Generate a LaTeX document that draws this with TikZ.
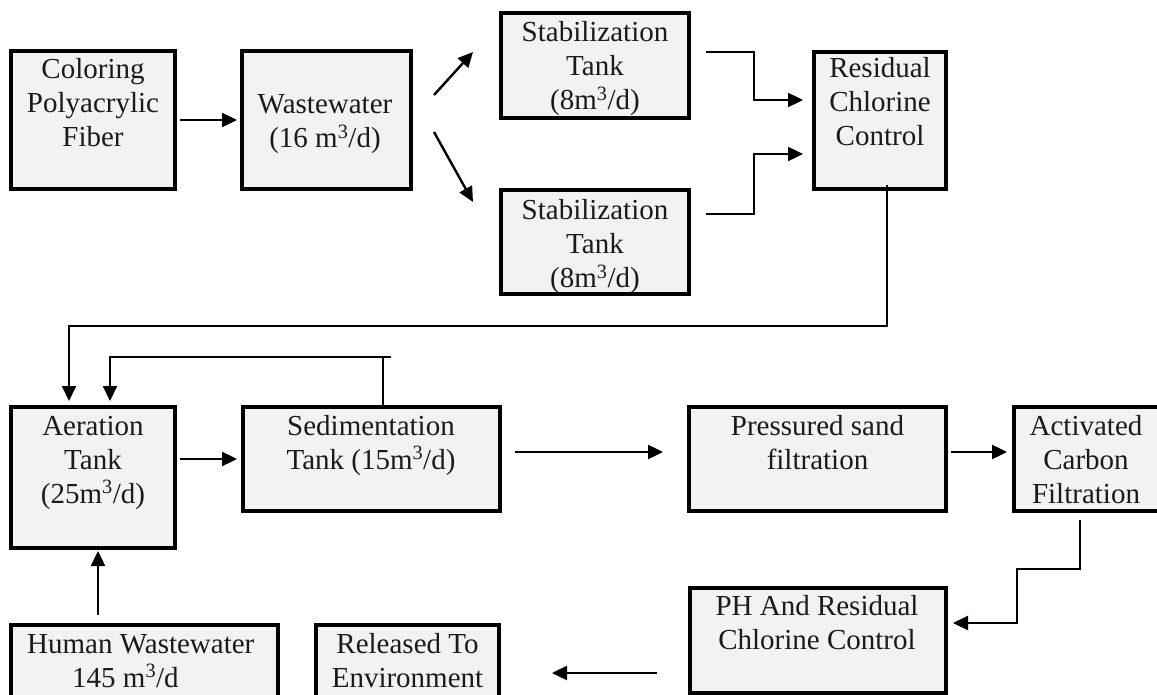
\documentclass[tikz,border=0pt]{standalone}
\usepackage{fontspec}
\setmainfont{Liberation Serif}
\usetikzlibrary{arrows.meta}
\definecolor{boxfill}{HTML}{F2F2F2}
\definecolor{txt}{HTML}{1A1A1A}
\newcommand\tlines[1]{\begin{tabular}[t]{@{}c@{}}#1\end{tabular}}
\begin{document}
\begin{tikzpicture}[x=1pt,y=-1pt,
  pbox/.style={draw=black,line width=4.4pt,fill=boxfill,inner sep=0pt,rectangle},
  lbl/.style={anchor=base,inner sep=0pt,text=txt,font=\fontsize{29}{34}\selectfont},
  arr/.style={line width=2.4pt,-{Triangle[length=15pt,width=14pt]}},
  wire/.style={line width=2pt}]
\useasboundingbox (0,0) rectangle (1157,695);
\fill[white] (0,0) rectangle (1157,695);
% boxes
\node[pbox,minimum width=163.6pt,minimum height=137.6pt] (color) at (93,120) {};
\node[pbox,minimum width=168.6pt,minimum height=137.6pt] (waste) at (326.5,120) {};
\node[pbox,minimum width=187.6pt,minimum height=104.6pt] (stab1) at (595,65.5) {};
\node[pbox,minimum width=187.6pt,minimum height=103.6pt] (stab2) at (595,242) {};
\node[pbox,minimum width=131.6pt,minimum height=136.6pt] (resid) at (880,120.5) {};
\node[pbox,minimum width=163.6pt,minimum height=140.6pt] (aer) at (93,477.5) {};
\node[pbox,minimum width=256.6pt,minimum height=103.6pt] (sed) at (371.5,459) {};
\node[pbox,minimum width=256.6pt,minimum height=103.6pt] (sand) at (817.5,459) {};
\node[pbox,minimum width=145.6pt,minimum height=103.6pt] (act) at (1087,459) {};
\node[pbox,minimum width=266.6pt,minimum height=82.6pt] (human) at (144.5,666.5) {};
\node[pbox,minimum width=182.6pt,minimum height=82.6pt] (rel) at (407.5,666.5) {};
\node[pbox,minimum width=255.6pt,minimum height=104.6pt] (ph) at (818,640.5) {};
% connectors
\draw[arr,shorten <=3pt,shorten >=3pt] (color.east) -- (waste.west);
\draw[arr] ([shift={(21,-25)}]waste.east) -- ([shift={(-26,-13.5)}]stab1.west);
\draw[arr] ([shift={(21,12)}]waste.east) -- ([shift={(-26,-40)}]stab2.west);
\draw[arr] ([shift={(15,-13.5)}]stab1.east) -- ++(48,0) |- ([shift={(-9,-20.5)}]resid.west);
\draw[arr] ([shift={(15,-28)}]stab2.east) -- ++(48,0) |- ([shift={(-9,33.5)}]resid.west);
\draw[arr,line width=2pt] ([shift={(7,-6)}]resid.south) -- ++(0,141) -| ([shift={(-24,-4)}]aer.north);
\draw[wire] ([shift={(11.5,0)}]sed.north) -- ++(0,-48);
\draw[arr,line width=2pt] ([shift={(19.5,-48)}]sed.north) -| ([shift={(17,-4)}]aer.north);
\draw[arr,shorten <=3pt,shorten >=4pt] (aer.east |- sed.west) -- (sed.west);
\draw[arr,shorten <=13pt,shorten >=24pt] ([shift={(0,-7)}]sed.east) -- ([shift={(0,-7)}]sand.west);
\draw[arr,shorten <=3pt,shorten >=5pt] ([shift={(0,-7)}]sand.east) -- ([shift={(0,-7)}]act.west);
\draw[arr] ([shift={(-7,7)}]act.south) -- ++(0,49) -- ++(-63,0) |- ([shift={(5,-17.5)}]ph.east);
\coordinate (phout) at ([shift={(0,32.5)}]ph.west);
\draw[arr,shorten <=31pt,shorten >=51pt] (phout) -- (phout -| rel.east);
\coordinate (hin) at ([shift={(5,0)}]aer.south);
\draw[arr,shorten <=8pt,shorten >=1pt] (hin |- human.north) -- (hin);
% texts
\node[lbl] (tcolor) at (93,79) {\tlines{Coloring\\Polyacrylic\\Fiber}};
\node[lbl] (twaste) at (325,114) {\tlines{Wastewater\\(16 m\textsuperscript{3}/d)}};
\node[lbl] (tstab1) at (595,42) {\tlines{Stabilization\\Tank\\(8m\textsuperscript{3}/d)}};
\node[lbl] (tstab2) at (595,220) {\tlines{Stabilization\\Tank\\(8m\textsuperscript{3}/d)}};
\node[lbl] (tresid) at (880,78) {\tlines{Residual\\Chlorine\\Control}};
\node[lbl] (taer) at (93,435) {\tlines{Aeration\\Tank\\(25m\textsuperscript{3}/d)}};
\node[lbl] (tsed) at (371,435) {\tlines{Sedimentation\\Tank (15m\textsuperscript{3}/d)}};
\node[lbl] (tsand) at (817.5,435) {\tlines{Pressured sand\\filtration}};
\node[lbl] (tact) at (1086,435) {\tlines{Activated\\Carbon\\Filtration}};
\node[lbl] (tph) at (817,615) {\tlines{PH And Residual\\Chlorine Control}};
\node[lbl,anchor=base west] (thuman) at (27,653) {\begin{tabular}[t]{@{}l@{}}Human Wastewater\\\hspace*{45pt}145 m\textsuperscript{3}/d\end{tabular}};
\node[lbl] (trel) at (407.5,653) {\tlines{Released To\\Environment}};
\end{tikzpicture}
\end{document}
